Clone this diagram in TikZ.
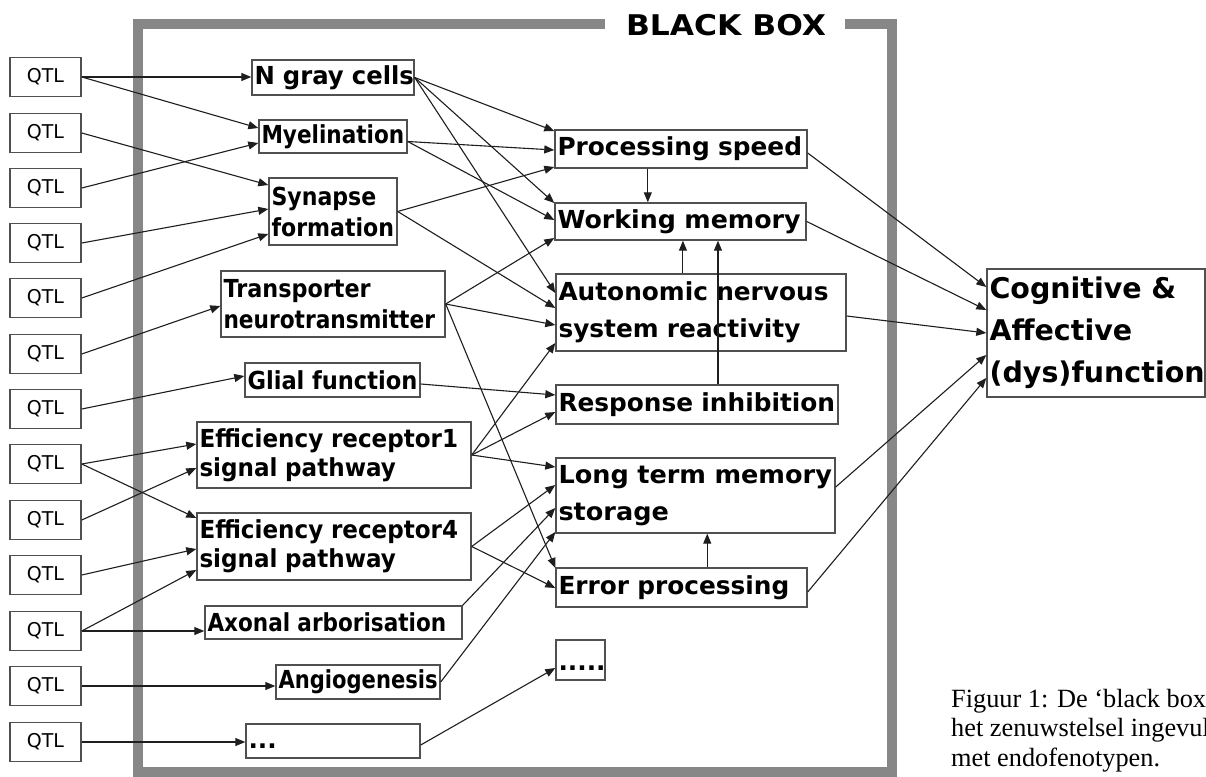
\documentclass[tikz,border=0pt]{standalone}
\usepackage{graphicx}
\usepackage{fontspec}
\newfontfamily\dv{DejaVu Sans}
\newfontfamily\tnr{Liberation Serif}
\usetikzlibrary{arrows.meta,calc}
\definecolor{framegray}{RGB}{135,135,135}
\definecolor{boxline}{RGB}{80,80,80}
\definecolor{lineclr}{RGB}{30,30,30}
\newcommand{\hsq}[2]{\scalebox{#1}[1]{#2}}
\begin{document}
\begin{tikzpicture}[x=1pt,y=-1pt,
  qtl/.style={draw=boxline,line width=1.6pt,minimum width=71pt,minimum height=39pt,inner sep=0pt,font=\dv\fontsize{19}{22}\selectfont},
  box/.style={draw=boxline,line width=1.4pt,inner xsep=2.5pt,inner ysep=0pt,align=left,font=\dv\bfseries\fontsize{24.8}{31}\selectfont},
  arr/.style={draw=lineclr,line width=1.1pt,-{Triangle[length=10pt,width=8pt]}}
]
\useasboundingbox (0,0) rectangle (1206,776);
\fill[white] (0,0) rectangle (1206,776);

% black box frame
\draw[framegray,line width=10pt] (605,24) -- (138,24) -- (138,772) -- (892,772) -- (892,24) -- (845,24);
\node[inner sep=0pt,font=\dv\bfseries\fontsize{28.5}{30}\selectfont] (bbt) at (726,25.5) {\hsq{1.1}{BLACK BOX}};

% QTL column
\foreach \i/\yy in {1/77,2/133,3/188,4/243,5/298,6/354,7/409,8/464,9/520,10/575,11/631,12/686,13/742}
  \node[qtl] (q\i) at (45.5,\yy) {QTL};

% inner left column
\node[box,minimum width=162pt,minimum height=35pt,text width=157pt] (ngc) at (333,77.5) {\hsq{0.98}{N gray cells}};
\node[box,minimum width=148pt,minimum height=33pt,text width=143pt] (mye) at (333,136.5) {\hsq{0.87}{Myelination}};
\node[box,minimum width=128pt,minimum height=67pt,text width=123pt] (syn) at (333,211.5) {\hsq{0.89}{Synapse}\\\hsq{0.89}{formation}};
\node[box,minimum width=224pt,minimum height=66pt,text width=219pt] (trn) at (333,304) {\hsq{0.9}{Transporter}\\\hsq{0.875}{neurotransmitter}};
\node[box,minimum width=175pt,minimum height=34pt,text width=170pt] (gli) at (332.5,380) {\hsq{0.91}{Glial function}};
\node[box,minimum width=274pt,minimum height=66pt,text width=269pt,font=\dv\bfseries\fontsize{24.8}{29}\selectfont] (er1) at (334,455) {\hsq{0.93}{Efficiency receptor1}\\\hsq{0.93}{signal pathway}};
\node[box,minimum width=274pt,minimum height=67pt,text width=269pt,font=\dv\bfseries\fontsize{24.8}{29}\selectfont] (er4) at (334,546.5) {\hsq{0.93}{Efficiency receptor4}\\\hsq{0.93}{signal pathway}};
\node[box,minimum width=257pt,minimum height=33pt,text width=252pt] (axo) at (333.5,622.5) {\hsq{0.87}{Axonal arborisation}};
\node[box,minimum width=164pt,minimum height=34pt,text width=159pt] (ang) at (358,682) {\hsq{0.85}{Angiogenesis}};
\node[box,minimum width=174pt,minimum height=34pt,text width=169pt,text height=14pt,text depth=0pt] (dt1) at (333,741) {...};

% inner right column
\node[box,minimum width=252pt,minimum height=38pt,text width=247pt] (ps) at (681,149) {\mbox{Processing speed}};
\node[box,minimum width=251pt,minimum height=37pt,text width=246pt] (wm) at (680.5,221.5) {\hsq{1.02}{Working memory}};
\node[box,minimum width=290pt,minimum height=77pt,text width=285pt,font=\dv\bfseries\fontsize{24.8}{37}\selectfont] (asr) at (701,312.5) {\mbox{Autonomic nervous}\\\mbox{system reactivity}};
\node[box,minimum width=282pt,minimum height=39pt,text width=277pt] (ri) at (697,404.5) {\mbox{Response inhibition}};
\node[box,minimum width=279pt,minimum height=75pt,text width=274pt,font=\dv\bfseries\fontsize{24.8}{37}\selectfont] (ltm) at (695.5,495.5) {\hsq{1.03}{Long term memory}\\\hsq{1.03}{storage}};
\node[box,minimum width=251pt,minimum height=39pt,text width=246pt] (ep) at (681.5,587.5) {\mbox{Error processing}};
\node[box,minimum width=49pt,minimum height=40pt,text width=44pt,text height=20pt,text depth=0pt] (dt2) at (580.5,660) {.....};

% outcome
\node[box,minimum width=218pt,minimum height=128pt,text width=213pt,font=\dv\bfseries\fontsize{28.5}{42}\selectfont] (cog) at (1096,333) {\mbox{Cognitive \&}\\\mbox{Affective}\\\mbox{(dys)function}};

% caption (cut off by the page edge, as in the source)
\node[anchor=north west,inner sep=0pt,align=left,font=\tnr\fontsize{26.3}{29.5}\selectfont] (cap) at (951,689) {Figuur 1: De ‘black box\\het zenuwstelsel ingevul\\met endofenotypen.};

% QTL -> inner left
\draw[arr] (q1.east) -- (q1.east -| ngc.west);
\draw[arr] (q1.east) -- ([yshift=8.5pt]mye.west);
\draw[arr] (q2.east) -- ([yshift=26.5pt]syn.west);
\draw[arr] (q3.east) -- ([yshift=-6.5pt]mye.west);
\draw[arr] (q4.east) -- ([yshift=2.5pt]syn.west);
\draw[arr] (q5.east) -- ([yshift=-22.5pt]syn.west);
\draw[arr] (q6.east) -- ([yshift=-2pt]trn.west);
\draw[arr] (q7.east) -- ([yshift=4pt]gli.west);
\draw[arr] (q8.east) -- ([yshift=11pt]er1.west);
\draw[arr] (q8.east) -- ([yshift=28.5pt]er4.west);
\draw[arr] (q9.east) -- ([yshift=-13pt]er1.west);
\draw[arr] (q10.east) -- ([yshift=-2.5pt]er4.west);
\draw[arr] (q11.east) -- ([yshift=-23.5pt]er4.west);
\draw[arr] (q11.east) -- (q11.east -| axo.west);
\draw[arr] (q12.east) -- (q12.east -| ang.west);
\draw[arr] (q13.east) -- (q13.east -| dt1.west);

% inner left -> inner right
\draw[arr] (ngc.east) -- ([yshift=18pt]ps.west);
\draw[arr] (ngc.east) -- ([yshift=18.5pt]wm.west);
\draw[arr] (ngc.east) -- ([yshift=19.5pt]asr.west);
\draw[arr] ([yshift=-5pt]mye.east) -- ([yshift=-1pt]ps.west);
\draw[arr] ([yshift=-5pt]mye.east) -- ([yshift=1.5pt]wm.west);
\draw[arr] (syn.east) -- ([yshift=-18pt]ps.west);
\draw[arr] (syn.east) -- ([yshift=4.5pt]asr.west);
\draw[arr] (trn.east) -- ([yshift=-16.5pt]wm.west);
\draw[arr] (trn.east) -- ([yshift=-12.5pt]asr.west);
\draw[arr] (trn.east) -- ([yshift=19.5pt]ep.west);
\draw[arr] ([yshift=-4pt]gli.east) -- ([yshift=9.5pt]ri.west);
\draw[arr] (er1.east) -- ([yshift=-30.5pt]asr.west);
\draw[arr] (er1.east) -- ([yshift=-7.5pt]ri.west);
\draw[arr] (er1.east) -- ([yshift=28.5pt]ltm.west);
\draw[arr] (er4.east) -- ([yshift=10.5pt]ltm.west);
\draw[arr] (er4.east) -- ([yshift=-0.5pt]ep.west);
\draw[arr] (axo.north east) -- ([yshift=-12.5pt]ltm.west);
\draw[arr] (ang.east) -- ([yshift=-36.5pt]ltm.west);
\draw[arr] ([yshift=-4pt]dt1.east) -- ([yshift=-8pt]dt2.west);

% vertical links
\coordinate (v1) at ($(ps.south west)!0.369!(ps.south east)$);
\draw[arr] (v1) -- (v1 |- wm.north);
\coordinate (v2) at ($(asr.north west)!0.438!(asr.north east)$);
\draw[arr] (v2) -- (v2 |- wm.south);
\coordinate (v3) at ($(ri.north west)!0.574!(ri.north east)$);
\draw[arr] (v3) -- (v3 |- wm.south);
\coordinate (v4) at ($(ep.north west)!0.602!(ep.north east)$);
\draw[arr] (v4) -- (v4 |- ltm.south);

% inner right -> outcome
\draw[arr] ([yshift=-4pt]ps.east) -- ([yshift=46pt]cog.west);
\draw[arr] (wm.east) -- ([yshift=23pt]cog.west);
\draw[arr] ([yshift=-3.5pt]asr.east) -- (cog.west);
\draw[arr] ([yshift=8.5pt]ltm.east) -- ([yshift=-22pt]cog.west);
\draw[arr] ([yshift=-4.5pt]ep.east) -- ([yshift=-45pt]cog.west);
\end{tikzpicture}
\end{document}
